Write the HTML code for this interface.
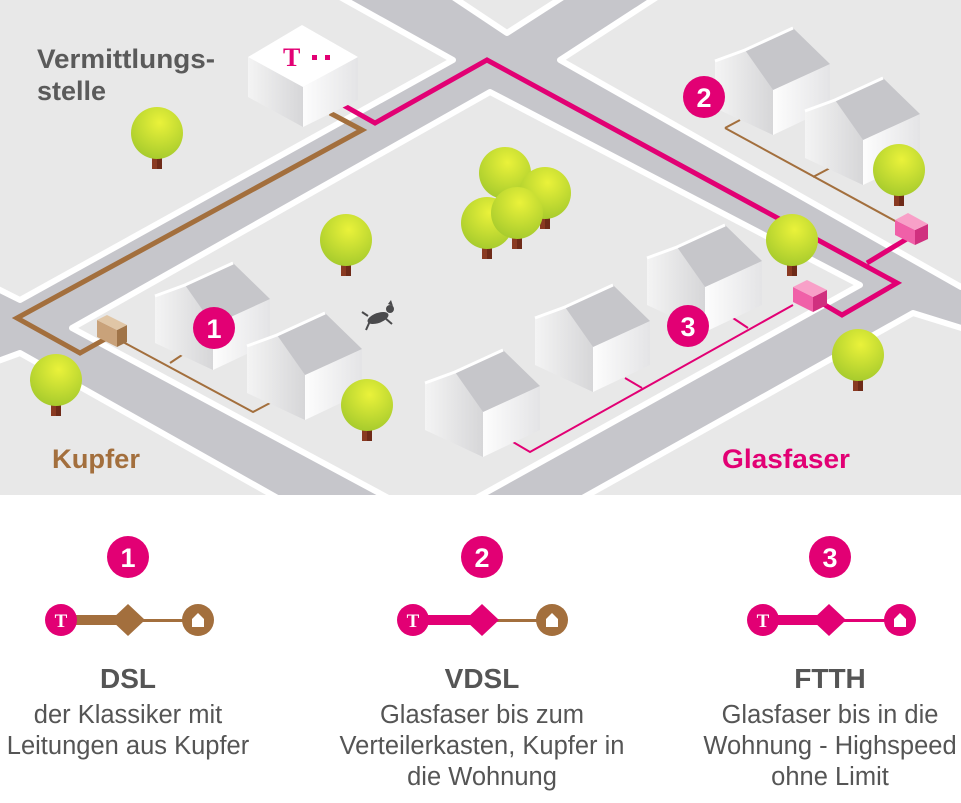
<!DOCTYPE html>
<html><head><meta charset="utf-8"><style>
html,body{margin:0;padding:0;background:#fff}
svg{display:block}
</style></head><body>
<svg width="961" height="803" viewBox="0 0 961 803" xmlns="http://www.w3.org/2000/svg" font-family="Liberation Sans, sans-serif">
<defs>
<clipPath id="mapclip"><rect x="0" y="0" width="961" height="495"/></clipPath>
<radialGradient id="tg" cx="0.55" cy="0.3" r="0.75"><stop offset="0" stop-color="#eaf23a"/><stop offset="1" stop-color="#a3c92c"/></radialGradient>
<linearGradient id="lw" x1="0" y1="0" x2="1" y2="0"><stop offset="0" stop-color="#f4f4f4"/><stop offset="1" stop-color="#d6d6d8"/></linearGradient>
<linearGradient id="rw" x1="0" y1="0" x2="1" y2="0"><stop offset="0" stop-color="#fdfdfd"/><stop offset="1" stop-color="#e4e4e6"/></linearGradient>
<g id="house">
<polygon points="0,33 30,22 58,62 58,107 0,80" fill="url(#lw)"/>
<polygon points="58,62 115,36 115,80 58,107" fill="url(#rw)"/>
<polygon points="30,22 78,0 115,36 58,62" fill="#c6c6ca"/>
<polyline points="0,33 30,22 78,0" fill="none" stroke="#fff" stroke-width="3"/>
</g>
<g id="tree">
<rect x="-5" y="18" width="10" height="18" fill="#8a3a22"/>
<rect x="0" y="18" width="5" height="18" fill="#6e2a18"/>
<circle cx="0" cy="0" r="26" fill="url(#tg)"/>
</g>
</defs>
<g clip-path="url(#mapclip)">
<rect x="0" y="0" width="961" height="495" fill="#c6c6cb"/>
<g fill="#e8e8e8" stroke="#fff" stroke-width="6" stroke-linejoin="round">
<polygon points="-40,270 20,300 453,60 340,-3 -40,-3"/>
<polygon points="453,-3 507,33 563,-3"/>
<polygon points="657,-3 560,60 961,287 1000,287 1000,-3"/>
<polygon points="72,328 490,92 860,285 433,522"/>
<polygon points="-40,375 20,353 290,505 -40,505"/>
<polygon points="913,313 570,505 1000,505 1000,340"/>
</g>
</g>
<!-- copper -->
<polyline points="330,113 362,130 17,318 80,353 107,338" fill="none" stroke="#a36f3d" stroke-width="5" stroke-linejoin="miter"/>
<polyline points="123,342 253,412 270,403" fill="none" stroke="#a36f3d" stroke-width="2"/>
<line x1="170" y1="363" x2="182" y2="355" stroke="#a36f3d" stroke-width="2"/>
<polyline points="725,128 740,120" fill="none" stroke="#a36f3d" stroke-width="2"/>
<polyline points="725,128 897,222" fill="none" stroke="#a36f3d" stroke-width="2"/>
<line x1="813" y1="177" x2="830" y2="168" stroke="#a36f3d" stroke-width="2"/>
<!-- fiber -->
<polyline points="343,105 375,123 487,60 897,283 842,315 813,298" fill="none" stroke="#e20074" stroke-width="5"/>
<polyline points="867,263 910,237" fill="none" stroke="#e20074" stroke-width="5"/>
<polyline points="793,305 530,452 513,442" fill="none" stroke="#e20074" stroke-width="2"/>
<line x1="748" y1="328" x2="733" y2="318" stroke="#e20074" stroke-width="2"/>
<line x1="642" y1="388" x2="625" y2="378" stroke="#e20074" stroke-width="2"/>
<!-- boxes -->
<polygon points="97,320 117,330 117,347 97,337" fill="#c9a27a"/><polygon points="117,330 127,325 127,342 117,347" fill="#a07448"/><polygon points="97,320 107,315 127,325 117,330" fill="#e0c6a6"/>
<polygon points="793,287 813,297 813,312 793,302" fill="#f060a8"/><polygon points="813,297 827,290 827,305 813,312" fill="#d0307f"/><polygon points="793,287 807,280 827,290 813,297" fill="#f8a0c8"/>
<polygon points="895,220 915,230 915,245 895,235" fill="#f060a8"/><polygon points="915,230 928,224 928,239 915,245" fill="#d0307f"/><polygon points="895,220 908,213 928,224 915,230" fill="#f8a0c8"/>
<!-- building -->
<polygon points="248,57 303,87 303,127 248,97" fill="url(#lw)"/>
<polygon points="303,87 358,57 358,100 303,127" fill="url(#rw)"/>
<polygon points="248,57 302,25 358,57 303,87" fill="#fff"/>
<text x="283" y="66" font-family="Liberation Serif, serif" font-weight="bold" font-size="26" fill="#e20074">T</text>
<rect x="312" y="55" width="5" height="5" fill="#e20074"/><rect x="325" y="55" width="5" height="5" fill="#e20074"/>
<!-- houses -->
<use href="#house" x="155" y="263"/>
<use href="#house" x="247" y="313"/>
<use href="#house" x="425" y="350"/>
<use href="#house" x="535" y="285"/>
<use href="#house" x="647" y="225"/>
<use href="#house" x="715" y="28"/>
<use href="#house" x="805" y="78"/>
<!-- trees -->
<use href="#tree" x="157" y="133"/>
<use href="#tree" x="346" y="240"/>
<use href="#tree" x="56" y="380"/>
<use href="#tree" x="367" y="405"/>
<use href="#tree" x="505" y="173"/>
<use href="#tree" x="545" y="193"/>
<use href="#tree" x="487" y="223"/>
<use href="#tree" x="517" y="213"/>
<use href="#tree" x="792" y="240"/>
<use href="#tree" x="899" y="170"/>
<use href="#tree" x="858" y="355"/>
<!-- dog -->
<g fill="#4a4a4c"><ellipse cx="378" cy="318" rx="11" ry="5" transform="rotate(-20 378 318)"/><circle cx="390" cy="309" r="4"/><polygon points="388,304 391,300 393,306"/><line x1="370" y1="321" x2="366" y2="330" stroke="#4a4a4c" stroke-width="2"/><line x1="385" y1="318" x2="392" y2="324" stroke="#4a4a4c" stroke-width="2"/><line x1="368" y1="316" x2="362" y2="312" stroke="#4a4a4c" stroke-width="2"/></g>
<!-- badges -->
<g font-weight="bold" font-size="27" fill="#fff" text-anchor="middle">
<circle cx="214" cy="328" r="21" fill="#e20074"/><text x="214" y="338">1</text>
<circle cx="704" cy="97" r="21" fill="#e20074"/><text x="704" y="107">2</text>
<circle cx="688" cy="326" r="21" fill="#e20074"/><text x="688" y="336">3</text>
</g>
<!-- labels -->
<text x="37" y="68" font-size="27" font-weight="bold" fill="#5a5a5a" textLength="178" lengthAdjust="spacingAndGlyphs">Vermittlungs-</text>
<text x="37" y="100" font-size="27" font-weight="bold" fill="#5a5a5a">stelle</text>
<text x="52" y="468" font-size="27" font-weight="bold" fill="#a36f3d" textLength="88" lengthAdjust="spacingAndGlyphs">Kupfer</text>
<text x="722" y="468" font-size="27" font-weight="bold" fill="#e20074" textLength="128" lengthAdjust="spacingAndGlyphs">Glasfaser</text>
<!-- legend -->
<g font-weight="bold" font-size="27" fill="#fff" text-anchor="middle">
<circle cx="128" cy="557" r="21" fill="#e20074"/><text x="128" y="567">1</text>
<circle cx="482" cy="557" r="21" fill="#e20074"/><text x="482" y="567">2</text>
<circle cx="830" cy="557" r="21" fill="#e20074"/><text x="830" y="567">3</text>
</g>
<rect x="61" y="615" width="67" height="10" fill="#a36f3d"/>
<rect x="128" y="619" width="72" height="3" fill="#a36f3d"/>
<polygon points="111,620 128,604 145,620 128,636" fill="#a36f3d"/>
<rect x="413" y="615" width="69" height="10" fill="#e20074"/>
<rect x="482" y="619" width="70" height="3" fill="#a36f3d"/>
<polygon points="465,620 482,604 499,620 482,636" fill="#e20074"/>
<rect x="763" y="615" width="66" height="10" fill="#e20074"/>
<rect x="829" y="619" width="71" height="3" fill="#e20074"/>
<polygon points="812,620 829,604 846,620 829,636" fill="#e20074"/>
<g>
<circle cx="61" cy="620" r="16" fill="#e20074"/>
<circle cx="413" cy="620" r="16" fill="#e20074"/>
<circle cx="763" cy="620" r="16" fill="#e20074"/>
<circle cx="198" cy="620" r="16" fill="#a36f3d"/>
<circle cx="552" cy="620" r="16" fill="#a36f3d"/>
<circle cx="900" cy="620" r="16" fill="#e20074"/>
</g>
<g font-family="Liberation Serif, serif" font-weight="bold" font-size="19" fill="#fff" text-anchor="middle">
<text x="61" y="627">T</text><text x="413" y="627">T</text><text x="763" y="627">T</text>
</g>
<g fill="#fff">
<polygon points="192,619 198,613 204,619 204,627 192,627"/>
<polygon points="546,619 552,613 558,619 558,627 546,627"/>
<polygon points="894,619 900,613 906,619 906,627 894,627"/>
</g>
<g text-anchor="middle" fill="#555">
<text x="128" y="688" font-size="28" font-weight="bold">DSL</text>
<text x="128" y="723" font-size="25.5">der Klassiker mit</text>
<text x="128" y="754" font-size="25.5">Leitungen aus Kupfer</text>
<text x="482" y="688" font-size="28" font-weight="bold">VDSL</text>
<text x="482" y="723" font-size="25.5">Glasfaser bis zum</text>
<text x="482" y="754" font-size="25.5">Verteilerkasten, Kupfer in</text>
<text x="482" y="785" font-size="25.5">die Wohnung</text>
<text x="830" y="688" font-size="28" font-weight="bold">FTTH</text>
<text x="830" y="723" font-size="25.5">Glasfaser bis in die</text>
<text x="830" y="754" font-size="25.5">Wohnung - Highspeed</text>
<text x="830" y="785" font-size="25.5">ohne Limit</text>
</g>
</svg>
</body></html>
